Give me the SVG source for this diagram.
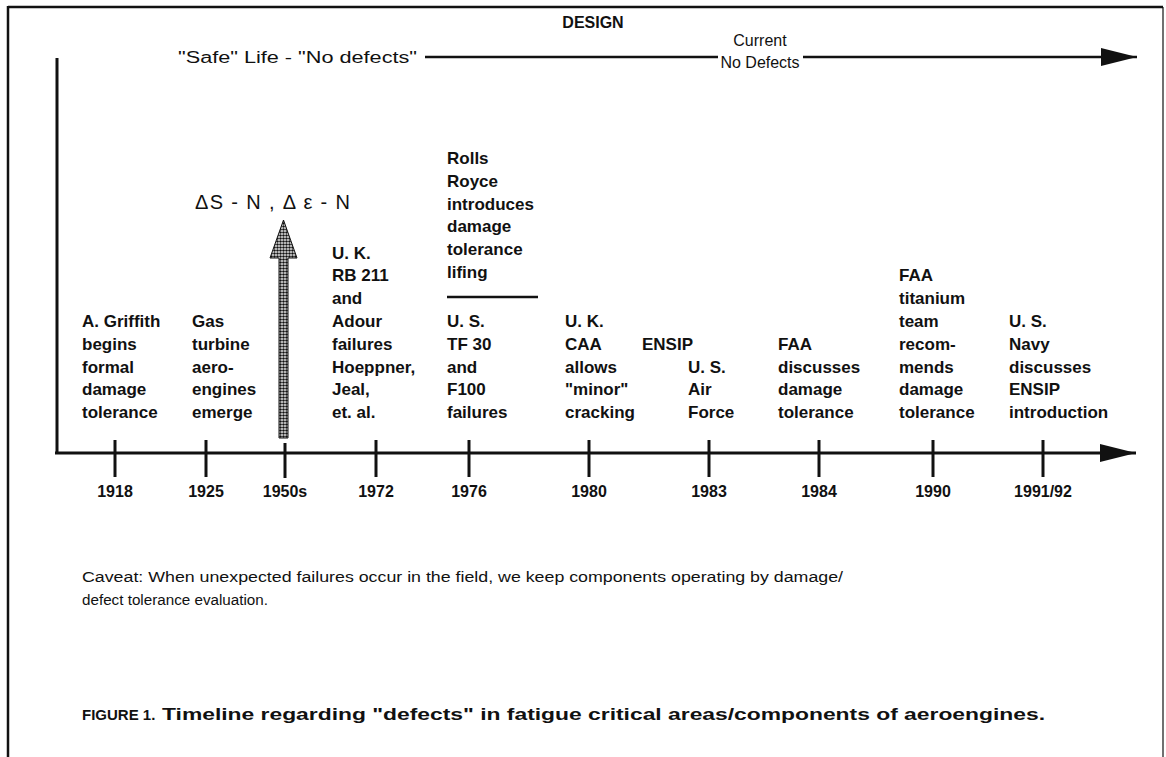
<svg xmlns="http://www.w3.org/2000/svg" width="1166" height="757" viewBox="0 0 1166 757">
<style>
.lbl{font-family:"Liberation Sans",Arial,sans-serif;font-weight:bold;font-size:17px;fill:#111}
.yr{font-family:"Liberation Sans",Arial,sans-serif;font-weight:bold;font-size:16px;fill:#111;text-anchor:middle}
.top{font-family:"Liberation Sans",Arial,sans-serif;font-size:16px;fill:#111}
.cav{font-family:"Liberation Sans",Arial,sans-serif;font-size:15.5px;fill:#111}
.fig{font-family:"Liberation Sans",Arial,sans-serif;font-weight:bold;font-size:16px;fill:#111}
.ln{stroke:#111;fill:none}
</style>
<defs>
<marker id="ah" markerUnits="userSpaceOnUse" markerWidth="36" markerHeight="20" refX="36" refY="10" orient="auto">
<path d="M0,1 L36,10 L0,19 z" fill="#111"/>
</marker>
<pattern id="stip" width="3" height="3" patternUnits="userSpaceOnUse">
<rect width="3" height="3" fill="#fff"/>
<circle cx="1.5" cy="1.5" r="1.3" fill="#111"/>
</pattern>
</defs>
<rect width="1166" height="757" fill="#fff"/>
<g id="frame">
<line class="ln" x1="8" y1="7" x2="1163" y2="7" stroke-width="2.5"/>
<line class="ln" x1="8" y1="6" x2="8" y2="757" stroke-width="2.5"/>
<line class="ln" x1="1163" y1="7" x2="1163" y2="757" stroke-width="1.2"/>
</g>
<g id="connectors">
<line class="ln" x1="57" y1="58" x2="57" y2="454" stroke-width="3"/>
<line class="ln" x1="55" y1="453" x2="1136" y2="453" stroke-width="3" marker-end="url(#ah)"/>
<line class="ln" x1="425" y1="57" x2="718" y2="57" stroke-width="2.5"/>
<line class="ln" x1="803" y1="57" x2="1137" y2="57" stroke-width="2.5" marker-end="url(#ah)"/>
<g class="ln" stroke-width="3">
<line x1="115" y1="440" x2="115" y2="477"/>
<line x1="206" y1="440" x2="206" y2="477"/>
<line x1="285" y1="443" x2="285" y2="478"/>
<line x1="376" y1="440" x2="376" y2="477"/>
<line x1="469" y1="440" x2="469" y2="477"/>
<line x1="589" y1="440" x2="589" y2="477"/>
<line x1="709" y1="440" x2="709" y2="477"/>
<line x1="819" y1="440" x2="819" y2="477"/>
<line x1="933" y1="440" x2="933" y2="477"/>
<line x1="1043" y1="440" x2="1043" y2="477"/>
</g>
<line class="ln" x1="447" y1="297" x2="538" y2="297" stroke-width="2.5"/>
<path d="M283.5,220 L297,258 L288,258 L288,438 L279,438 L279,258 L270,258 z" fill="url(#stip)" stroke="#111" stroke-width="1"/>
</g>
<g id="design"><text class="top" x="593" y="28" text-anchor="middle" font-weight="bold">DESIGN</text></g>
<g id="safe-life"><text class="top" x="178" y="63" textLength="239" lengthAdjust="spacingAndGlyphs">"Safe" Life  -  "No defects"</text></g>
<g id="current"><text class="top" x="760" y="46" text-anchor="middle">Current</text><text class="top" x="760" y="68" text-anchor="middle">No Defects</text></g>
<g id="delta"><text x="195" y="209" font-family="'Liberation Sans',Arial,sans-serif" font-size="20" fill="#111" textLength="155" lengthAdjust="spacing">ΔS - N ,  Δ ε - N</text></g>
<g id="n1918" class="lbl"><text x="82" y="327">A. Griffith</text><text x="82" y="349.8">begins</text><text x="82" y="372.6">formal</text><text x="82" y="395.4">damage</text><text x="82" y="418.2">tolerance</text></g>
<g id="n1925" class="lbl"><text x="192" y="327">Gas</text><text x="192" y="349.8">turbine</text><text x="192" y="372.6">aero-</text><text x="192" y="395.4">engines</text><text x="192" y="418.2">emerge</text></g>
<g id="n1972" class="lbl"><text x="332" y="258.6">U. K.</text><text x="332" y="281.4">RB 211</text><text x="332" y="304.2">and</text><text x="332" y="327">Adour</text><text x="332" y="349.8">failures</text><text x="332" y="372.6">Hoeppner,</text><text x="332" y="395.4">Jeal,</text><text x="332" y="418.2">et. al.</text></g>
<g id="rolls" class="lbl"><text x="447" y="164">Rolls</text><text x="447" y="186.8">Royce</text><text x="447" y="209.6">introduces</text><text x="447" y="232.4">damage</text><text x="447" y="255.2">tolerance</text><text x="447" y="278">lifing</text></g>
<g id="n1976" class="lbl"><text x="447" y="327">U. S.</text><text x="447" y="349.8">TF 30</text><text x="447" y="372.6">and</text><text x="447" y="395.4">F100</text><text x="447" y="418.2">failures</text></g>
<g id="n1980" class="lbl"><text x="565" y="327">U. K.</text><text x="565" y="349.8">CAA</text><text x="565" y="372.6">allows</text><text x="565" y="395.4">"minor"</text><text x="565" y="418.2">cracking</text></g>
<g id="ensip" class="lbl"><text x="642" y="349.8">ENSIP</text></g>
<g id="n1983" class="lbl"><text x="688" y="372.6">U. S.</text><text x="688" y="395.4">Air</text><text x="688" y="418.2">Force</text></g>
<g id="n1984" class="lbl"><text x="778" y="349.8">FAA</text><text x="778" y="372.6">discusses</text><text x="778" y="395.4">damage</text><text x="778" y="418.2">tolerance</text></g>
<g id="n1990" class="lbl"><text x="899" y="281.4">FAA</text><text x="899" y="304.2">titanium</text><text x="899" y="327">team</text><text x="899" y="349.8">recom-</text><text x="899" y="372.6">mends</text><text x="899" y="395.4">damage</text><text x="899" y="418.2">tolerance</text></g>
<g id="n1991" class="lbl"><text x="1009" y="327">U. S.</text><text x="1009" y="349.8">Navy</text><text x="1009" y="372.6">discusses</text><text x="1009" y="395.4">ENSIP</text><text x="1009" y="418.2">introduction</text></g>
<g id="years" class="yr"><text x="115" y="497">1918</text><text x="206" y="497">1925</text><text x="285" y="497">1950s</text><text x="376" y="497">1972</text><text x="469" y="497">1976</text><text x="589" y="497">1980</text><text x="709" y="497">1983</text><text x="819" y="497">1984</text><text x="933" y="497">1990</text><text x="1043" y="497">1991/92</text></g>
<g id="caveat" class="cav"><text x="82" y="582" textLength="761" lengthAdjust="spacingAndGlyphs">Caveat:  When unexpected failures occur in the field, we keep components operating by damage/</text><text x="82" y="605" textLength="186" lengthAdjust="spacingAndGlyphs">defect tolerance evaluation.</text></g>
<g id="caption" class="fig"><text x="82" y="720" font-size="15">FIGURE 1.</text><text x="162" y="720" textLength="883" lengthAdjust="spacingAndGlyphs">Timeline regarding "defects" in fatigue critical areas/components of aeroengines.</text></g>
</svg>
